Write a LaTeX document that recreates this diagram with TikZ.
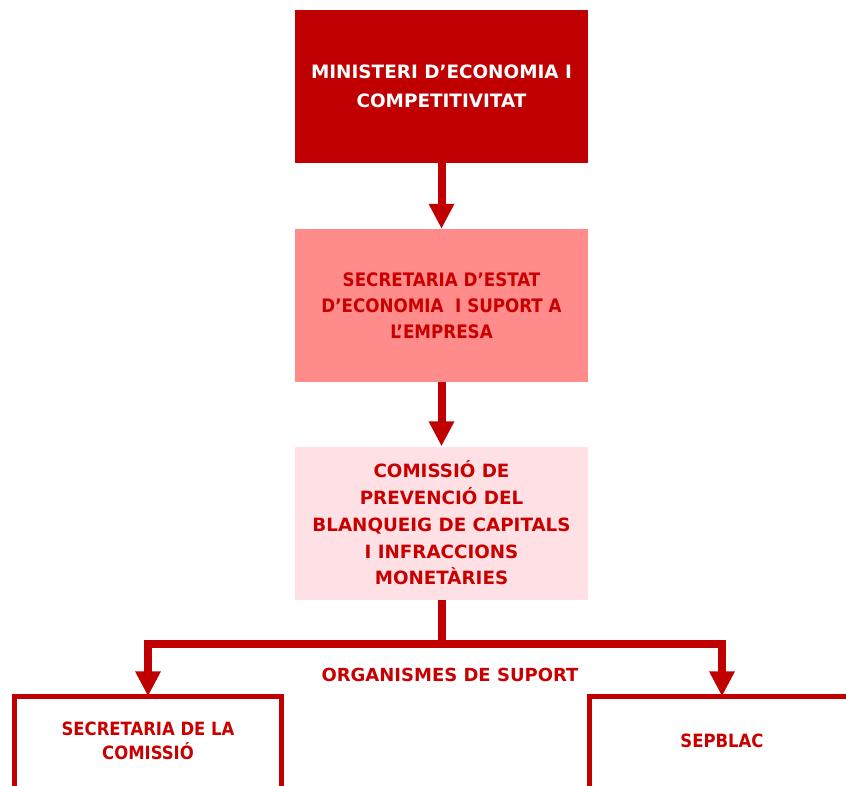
\documentclass[tikz,border=0pt]{standalone}
\usepackage{fontspec}
\setmainfont{DejaVu Sans}
\newfontfamily\condface{DejaVu Sans Condensed}
\usetikzlibrary{arrows.meta}
\definecolor{darkred}{HTML}{C00000}
\definecolor{txtred}{HTML}{C80000}
\definecolor{midpink}{HTML}{FF8B8B}
\definecolor{palepink}{HTML}{FFE1E5}
\tikzset{
  boxbase/.style={inner sep=0pt, minimum width=293pt, minimum height=153pt, align=center},
  topbox/.style={boxbase, fill=darkred, text=white, font=\fontsize{18.4}{29}\selectfont\bfseries},
  secbox/.style={boxbase, fill=midpink, text=txtred, font=\condface\fontsize{18.6}{26}\selectfont\bfseries},
  combox/.style={boxbase, fill=palepink, text=txtred, font=\fontsize{18.3}{26.7}\selectfont\bfseries},
  openbox/.style={inner sep=0pt, align=center, text=txtred, font=\condface\fontsize{18.3}{24}\selectfont\bfseries},
  boxline/.style={draw=darkred, line width=5pt},
  arr/.style={draw=darkred, line width=8pt, -{Triangle[width=24pt,length=25pt]}},
  conn/.style={draw=darkred, line width=8pt},
  lbl/.style={text=txtred, font=\fontsize{18}{20}\selectfont\bfseries, inner sep=0pt}
}
\begin{document}
\begin{tikzpicture}[x=1pt,y=-1pt]
\clip (0,0) rectangle (846,785);
\fill[white] (0,0) rectangle (846,785);

\node[topbox] (b1) at (441.5,86.5) {MINISTERI D’ECONOMIA I\\COMPETITIVITAT};
\node[secbox] (b2) at (441.5,305.5) {SECRETARIA D’ESTAT\\D’ECONOMIA \ I SUPORT A\\L’EMPRESA};
\node[combox] (b3) at (441.5,523) {COMISSIÓ DE\\PREVENCIÓ DEL\\BLANQUEIG DE CAPITALS\\I INFRACCIONS\\MONETÀRIES};

\node[openbox, minimum width=267pt, minimum height=89pt] (b4) at (148,741) {SECRETARIA DE LA\\COMISSIÓ};
\node[openbox, minimum width=265pt, minimum height=89pt] (b5) at (722,741) {SEPBLAC};

\draw[boxline] ([yshift=-10pt]b4.south west) |- (b4.north east) -- ([yshift=-10pt]b4.south east);
\draw[boxline] ([yshift=-10pt]b5.south west) |- (b5.north east) -- ([yshift=-10pt]b5.south east);

\draw[arr] (b1.south) -- (b2.north);
\draw[arr] (b2.south) -- (b3.north);

\coordinate (j) at (b3.south |- 0,644);
\draw[conn] (b3.south) -- ([yshift=4pt]j);
\draw[arr] ([xshift=4pt]j) -| (b4.north);
\draw[arr] ([xshift=-4pt]j) -| (b5.north);

\node[lbl] (org) at (450,675) {ORGANISMES DE SUPORT};
\end{tikzpicture}
\end{document}
